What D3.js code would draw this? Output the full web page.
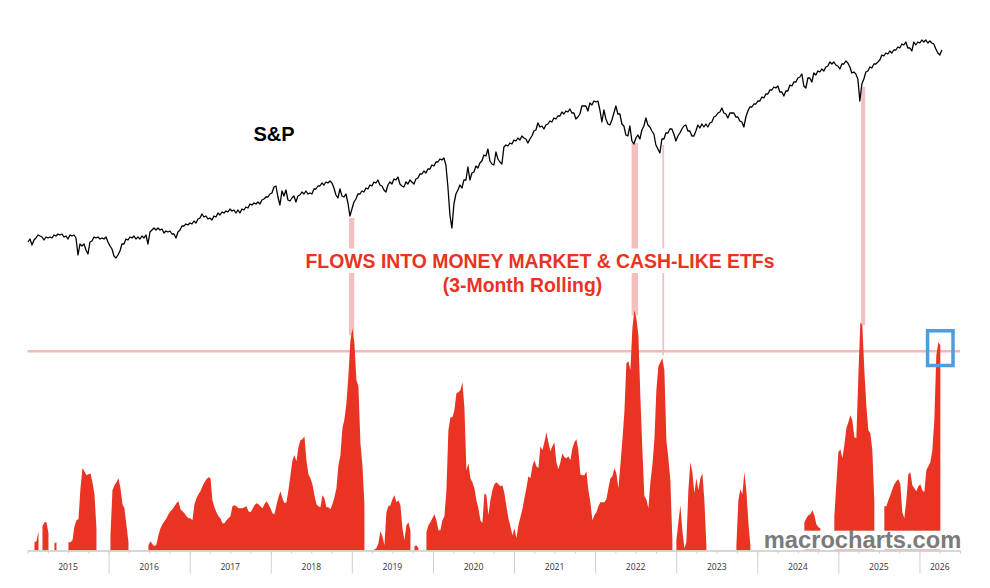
<!DOCTYPE html>
<html><head><meta charset="utf-8">
<script src="https://cdn.jsdelivr.net/npm/d3@7"></script>
<style>html,body{margin:0;padding:0;background:#fff;}svg{display:block;}</style>
</head><body><div id="c"></div>
<script>
// Both series are sampled every 9 days (2/81.1 of a year) from the start of 2015.
const firstSampleYear = 2015.006, sampleStep = 2/81.1, flowSampleShift = 0.006;
const yearLabels = [2015,2016,2017,2018,2019,2020,2021,2022,2023,2024,2025,2026];
const axisEndYear = 2026.5;
// S&P, unlabelled relative level
const spLevels = [
58,61,55,60,62,65,64,63,60,63,62,63,62,65,64,66,65,66,63,64,61,65,64,65,62,45,56,54,56,50,46,58,59,63,62,63,61,62,61,63,58,54,51,44,42,45,49,56,56,61,60,63,62,64,61,63,61,64,62,65,56,68,70,72,70,72,70,71,67,69,68,69,66,66,62,68,70,74,74,76,75,77,76,79,77,81,82,86,83,84,81,82,80,84,83,87,85,88,87,89,88,91,89,90,87,90,87,91,90,93,92,96,95,97,96,98,96,100,101,103,103,106,107,113,114,103,95,109,104,110,100,99,102,104,98,104,105,108,106,109,106,107,106,111,111,114,114,117,115,118,117,119,117,112,105,102,111,104,103,106,97,84,91,98,101,106,106,109,108,112,111,115,114,118,117,120,115,114,110,108,115,118,116,121,120,123,116,114,113,118,116,120,118,116,121,122,126,126,129,127,131,131,135,134,138,138,141,140,142,135,113,85,72,96,106,110,115,112,120,120,133,120,127,128,134,132,137,139,145,144,151,139,136,135,148,141,138,136,153,155,154,157,156,160,159,162,160,164,162,161,157,161,164,169,170,177,173,174,171,175,176,179,178,182,181,184,184,188,186,189,188,191,187,187,181,183,186,194,194,194,189,197,195,199,198,199,190,178,190,181,176,175,180,187,194,186,186,176,174,165,164,174,159,156,162,165,161,170,174,182,175,173,169,166,155,151,147,161,161,167,167,171,171,166,159,164,167,171,174,175,169,169,164,164,169,175,172,176,173,176,173,177,178,183,184,187,188,192,187,186,182,187,187,187,183,183,179,178,173,183,189,193,193,196,196,199,199,203,202,206,206,210,210,213,212,214,208,208,204,209,209,215,214,218,218,222,223,226,214,212,222,222,218,227,225,229,228,231,229,233,234,238,236,238,235,234,231,236,236,239,237,233,227,228,226,221,199,216,221,228,229,233,232,236,236,238,240,245,244,247,246,249,247,250,250,253,252,256,255,258,252,252,249,258,255,258,257,260,258,260,257,259,257,256,251,247,245,250];
// Money-market and cash-like ETF flows, 3-month rolling, relative level
const flowLevels = [
0,0,0,8,9,19,0,24,28,28,17,0,0,7,8,0,0,0,0,0,
8,8,10,24,30,31,62,82,79,75,76,77,68,56,22,0,0,0,0,0,0,
15,60,65,68,72,62,46,42,25,8,0,0,0,0,0,0,0,0,0,
5,9,6,4,6,15,22,26,29,32,36,39,41,44,47,49,41,39,37,34,32,32,30,46,52,56,59,64,68,71,73,72,50,43,38,34,32,27,27,30,32,34,44,45,44,42,42,42,43,44,39,38,41,45,47,46,44,42,46,49,46,42,37,36,45,53,59,52,47,48,60,75,90,95,89,103,110,111,114,90,76,72,66,55,46,44,43,55,52,43,43,41,46,53,62,85,95,122,131,147,175,210,222,207,170,164,107,85,46,0,
0,0,0,1,2,7,19,14,5,38,44,45,51,55,48,50,45,22,10,25,28,20,0,4,5,2,0,0,0,
18,25,28,32,36,30,20,20,30,34,60,120,133,133,140,157,158,160,168,143,80,87,72,68,62,50,42,30,27,57,55,35,50,60,66,68,66,64,65,57,44,32,24,15,22,12,25,33,41,52,62,74,72,84,90,84,82,104,100,108,118,108,99,104,108,88,81,88,97,93,92,94,90,102,108,111,100,76,75,75,79,60,48,30,35,38,44,48,48,48,51,62,72,74,82,77,62,85,110,138,187,189,180,222,240,232,215,153,100,54,51,42,68,85,110,160,184,188,192,180,110,92,70,10,0,
10,28,45,20,2,8,60,88,78,57,72,60,72,77,50,5,0,0,0,0,0,0,0,0,0,0,0,0,0,0,
4,50,61,56,78,60,28,5,0,0,0,0,0,0,0,0,0,0,0,0,0,0,0,0,0,0,0,0,0,0,0,0,0,0,
28,32,35,36,40,35,26,23,22,0,0,0,0,0,0,
34,66,98,101,92,105,122,128,135,130,113,112,174,228,225,180,145,120,117,100,48,0,0,0,0,
44,44,50,55,61,66,69,71,66,38,32,50,76,78,65,62,59,64,66,60,58,80,84,88,100,130,195,208,205];
const flowThreshold = 199;
const bandYears = [[2018.964,2019.03],[2022.45,2022.53],[2022.829,2022.851],[2025.281,2025.33]];
const bandTopLevels = [82,157,155,213];
const bandBottomFlows = [215,235,195,225];
const highlightYears = [2026.10,2026.414];
const highlightFlows = [184.8,219.5];

const W=990,H=588;
const svg=d3.select('#c').append('svg').attr('width',W).attr('height',H).attr('viewBox',`0 0 ${W} ${H}`);
const x=d3.scaleLinear().domain([2015,axisEndYear]).range([27.5,960]);
const ySp=d3.scaleLinear().domain([0,300]).range([300,0]);
const yFlow=d3.scaleLinear().domain([0,250]).range([550.3,300.3]);
const yearOf=i=>firstSampleYear+i*sampleStep;
const PINK='#f3bfbf',RED='#e93323';

svg.append('g').selectAll('rect').data(bandYears).join('rect')
  .attr('x',d=>x(d[0])).attr('width',d=>x(d[1])-x(d[0]))
  .attr('y',(d,i)=>ySp(bandTopLevels[i])).attr('height',(d,i)=>yFlow(bandBottomFlows[i])-ySp(bandTopLevels[i]))
  .attr('fill',PINK);

svg.append('line').attr('x1',x(2015)).attr('x2',x(axisEndYear)).attr('y1',yFlow(flowThreshold)).attr('y2',yFlow(flowThreshold))
  .attr('stroke','#f4b8b8').attr('stroke-width',2.4);

// Runs of positive flow keep hard vertical edges; the gaps between them stay empty.
const area=d3.area().defined(d=>d>0).x((d,i)=>x(yearOf(i)+flowSampleShift)).y0(yFlow(0)).y1(d=>yFlow(d));
svg.append('path').datum(flowLevels).attr('d',area).attr('fill',RED);

const line=d3.line().x((d,i)=>x(yearOf(i))).y(d=>ySp(d));
svg.append('path').datum(spLevels).attr('d',line).attr('fill','none').attr('stroke','#000').attr('stroke-width',1.3).attr('stroke-linejoin','round');

// white backings of the two captions
svg.append('rect').attr('x',300).attr('y',248.5).attr('width',480).attr('height',24.5).attr('fill','#fff');
svg.append('rect').attr('x',753).attr('y',530.7).attr('width',212).attr('height',19).attr('fill','#fff');

// axis
const axisG=svg.append('g').attr('transform',`translate(0,${yFlow(0)+0.2})`);
const quarters=d3.range(2015,axisEndYear+0.01,0.25);
const minor=d3.axisBottom(x).tickValues(quarters).tickSize(3).tickSizeOuter(0).tickFormat('');
const major=d3.axisBottom(x).tickValues(yearLabels.slice(1)).tickSize(23).tickSizeOuter(0).tickFormat('');
const mg=axisG.append('g').call(minor); const Mg=axisG.append('g').call(major);
[mg,Mg].forEach(g=>{g.selectAll('path').attr('stroke','#c9c9c9').attr('stroke-width',1.2);g.selectAll('line').attr('stroke','#d0d0d0');});
const labelCentre=y=>x((y+Math.min(y+1,axisEndYear))/2);
svg.append('g').selectAll('text').data(yearLabels).join('text')
  .attr('x',labelCentre).attr('y',570).attr('text-anchor','middle')
  .attr('font-family','"Open Sans",sans-serif').attr('font-size',8.6).attr('fill','#333').text(d=>d);

const F='"Liberation Sans",Arial,sans-serif';
svg.append('text').attr('x',274).attr('y',141).attr('text-anchor','middle').attr('font-family',F).attr('font-weight','bold').attr('font-size',20).attr('fill','#000').text('S&P');
svg.append('text').attr('x',540).attr('y',268).attr('text-anchor','middle').attr('font-family',F).attr('font-weight','bold').attr('font-size',19.4).attr('fill',RED).text('FLOWS INTO MONEY MARKET & CASH-LIKE ETFs');
svg.append('text').attr('x',522.5).attr('y',291.5).attr('text-anchor','middle').attr('font-family',F).attr('font-weight','bold').attr('font-size',19.4).attr('fill',RED).text('(3-Month Rolling)');
svg.append('text').attr('x',862.5).attr('y',548).attr('text-anchor','middle').attr('font-family',F).attr('font-weight','bold').attr('font-size',23.7).attr('fill','#7b7b7b').text('macrocharts.com');

svg.append('rect').attr('x',x(highlightYears[0])).attr('width',x(highlightYears[1])-x(highlightYears[0]))
  .attr('y',yFlow(highlightFlows[1])).attr('height',yFlow(highlightFlows[0])-yFlow(highlightFlows[1]))
  .attr('fill','none').attr('stroke','#4a9ee2').attr('stroke-width',3.5);
</script></body></html>
